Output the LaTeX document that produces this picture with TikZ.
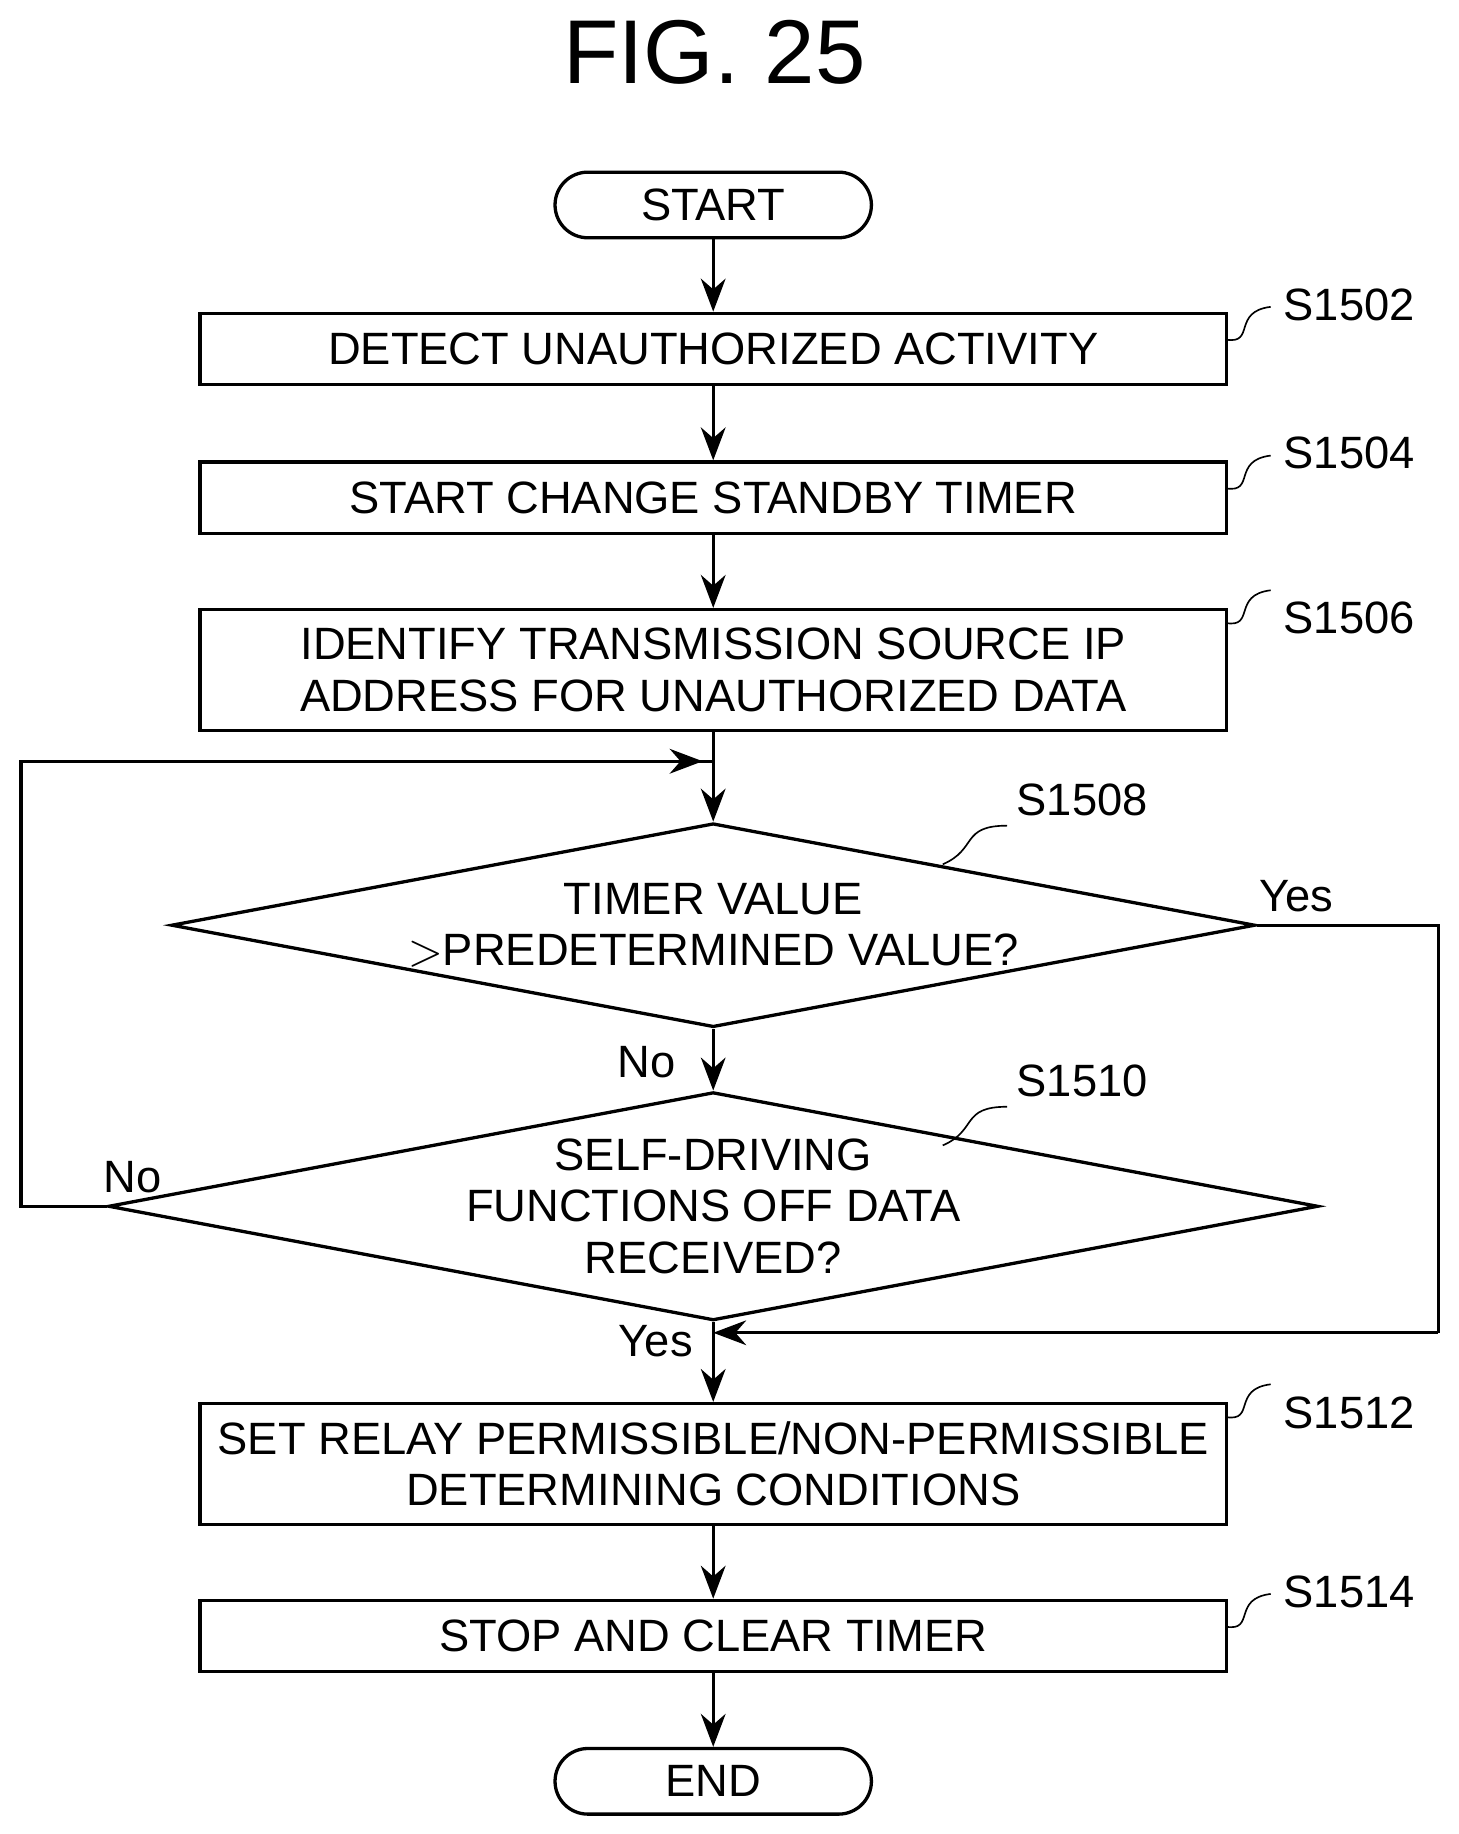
\documentclass[tikz,border=0pt]{standalone}
\usepackage{fontspec}
\setmainfont{Liberation Sans}
\usetikzlibrary{shapes.geometric,arrows.meta}

\tikzset{
  box/.style={draw, thick, minimum width=8.76cm, align=center, inner sep=0pt, font=\fontsize{11}{12.5}\selectfont},
  term/.style={draw, thick, rounded corners=0.28cm, minimum width=2.7cm, minimum height=0.56cm, font=\fontsize{11}{12}\selectfont},
  dec/.style={draw, thick, diamond, aspect=5.3, minimum width=9.25cm, minimum height=1.74cm, inner sep=0pt, align=center, font=\fontsize{11}{12.5}\selectfont},
  lbl/.style={font=\fontsize{11}{12}\selectfont},
  flow/.style={thick, -{Stealth[length=8pt,width=6pt]}},
}

\begin{document}
\begin{tikzpicture}[x=0.01cm, y=-0.01cm, thick]
    \useasboundingbox (0,0) rectangle (1245,1566);
    \node[font=\fontsize{22}{24}\selectfont] (title) at (610,45) {FIG. 25};
    % steps
    \node[term] (start) at (609,175) {START};
    \node[box, minimum height=0.61cm] (s1502) at (609,298) {DETECT UNAUTHORIZED ACTIVITY};
    \node[box, minimum height=0.61cm] (s1504) at (609,425) {START CHANGE STANDBY TIMER};
    \node[box, minimum height=1.03cm] (s1506) at (609,572) {IDENTIFY TRANSMISSION SOURCE IP\\ADDRESS FOR UNAUTHORIZED DATA};
    \node[dec] (s1508) at (609,790) {TIMER VALUE\\${>}$PREDETERMINED VALUE?};
    \node[dec] (s1510) at (609,1030) {SELF-DRIVING\\FUNCTIONS OFF DATA\\RECEIVED?};
    \node[box, minimum height=1.03cm] (s1512) at (609,1250) {SET RELAY PERMISSIBLE/NON-PERMISSIBLE\\DETERMINING CONDITIONS};
    \node[box, minimum height=0.61cm] (s1514) at (609,1397) {STOP AND CLEAR TIMER};
    \node[term] (end) at (609,1521) {END};
    % junctions
    \coordinate (loop) at (609,650);
    \coordinate (join) at (609,1138);
    % connectors
    \draw[flow] (start) -- (s1502);
    \draw[flow] (s1502) -- (s1504);
    \draw[flow] (s1504) -- (s1506);
    \draw[flow] (s1506) -- (s1508);
    \draw[flow] (s1508) -- (s1510);
    \draw (s1510.west) -- (18,1030) -- (18,650) -- (loop);
    \draw[flow] (18,650) -- (600,650);
    \draw (s1510) -- (join);
    \draw[flow] (join) -- (s1512);
    \draw (s1508.east) -- (1228,790) -- (1228,1138);
    \draw[flow] (1228,1138) -- (join);
    \draw[flow] (s1512) -- (s1514);
    \draw[flow] (s1514) -- (end);
    % branch labels
    \node[lbl] (yes1) at (1107,765) {Yes};
    \node[lbl] (no1) at (552,907) {No};
    \node[lbl] (no2) at (113,1005) {No};
    \node[lbl] (yes2) at (560,1145) {Yes};
    % step numbers
    \foreach \s/\y in {s1502/298, s1504/425, s1506/540, s1512/1218, s1514/1397} {
      \draw[thin] (1047,\y-8) .. controls (1072,\y-4) and (1052,\y-32) .. (1085,\y-36);
    }
    \node[lbl, anchor=west] (n1502) at (1083,260) {S1502};
    \node[lbl, anchor=west] (n1504) at (1083,387) {S1504};
    \node[lbl, anchor=west] (n1506) at (1083,528) {S1506};
    \node[lbl, anchor=west] (n1512) at (1083,1206) {S1512};
    \node[lbl, anchor=west] (n1514) at (1083,1359) {S1514};
    \draw[thin] (805,738) .. controls (835,725) and (820,705) .. (860,705);
    \draw[thin] (805,978) .. controls (835,965) and (820,945) .. (860,945);
    \node[lbl, anchor=west] (n1508) at (855,683) {S1508};
    \node[lbl, anchor=west] (n1510) at (855,923) {S1510};
\end{tikzpicture}
\end{document}
